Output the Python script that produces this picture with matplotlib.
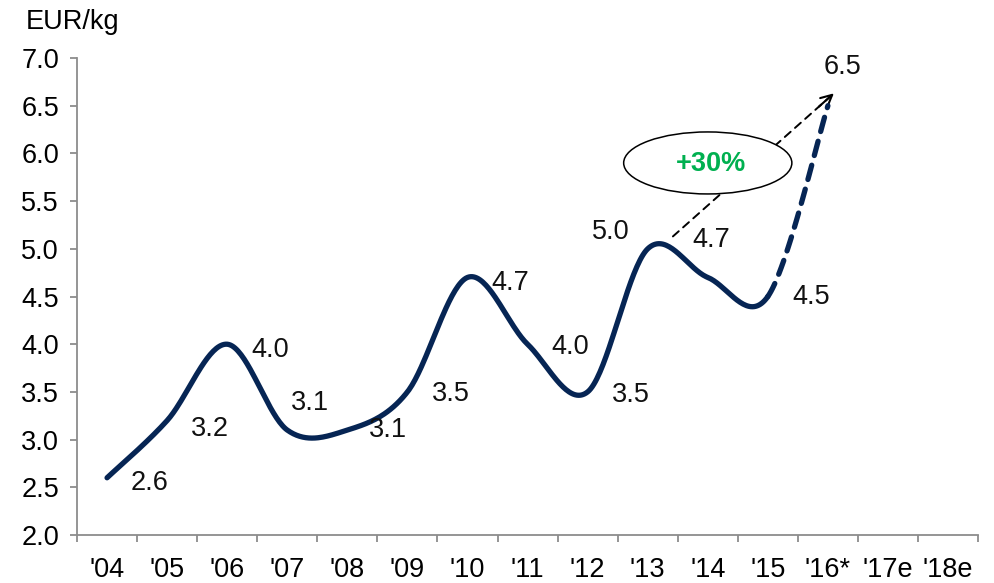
from matplotlib import pyplot as plt
from matplotlib.patches import Ellipse
import numpy as np

plt.rcParams['font.family'] = ['Liberation Sans', 'DejaVu Sans']

# price per kg, actual + estimate
years = ["'04", "'05", "'06", "'07", "'08", "'09", "'10", "'11", "'12",
         "'13", "'14", "'15", "'16*", "'17e", "'18e"]
price = [2.6, 3.2, 4.0, 3.1, 3.1, 3.5, 4.7, 4.0, 3.5, 5.0, 4.7, 4.5, 6.5]

# label offsets (pixels) for the data labels
lbl_off = [(43, -5), (43, -8), (43, -6), (23, 27), (41, 0), (43, -2), (43, -6),
           (43, -3), (43, -3), (-37, 17), (3, 37), (43, 0), (15, 39)]

navy = '#062554'
fs = 19.5


def smooth(px, py, n=40):
    # excel-like smoothed line (catmull-rom as bezier), one chunk per segment
    pts = np.column_stack([px, py]).astype(float)
    ext = np.vstack([pts[0], pts, pts[-1]])
    t = np.linspace(0, 1, n)[:, None]
    segs = []
    for i in range(len(pts) - 1):
        p0, p1, p2, p3 = ext[i], ext[i + 1], ext[i + 2], ext[i + 3]
        b1 = p1 + (p2 - p0) / 6.0
        b2 = p2 - (p3 - p1) / 6.0
        c = ((1 - t) ** 3) * p1 + 3 * ((1 - t) ** 2) * t * b1 + 3 * (1 - t) * t ** 2 * b2 + t ** 3 * p2
        segs.append(c)
    return segs


fig = plt.figure(figsize=(9.95, 5.83), dpi=100)
ax = fig.add_axes([0.0774, 0.0823, 0.9056, 0.8182])

x = np.arange(len(price))
segs = smooth(x, price)
solid = np.vstack(segs[:-1])
ax.plot(solid[:, 0], solid[:, 1], color=navy, lw=3.8, solid_capstyle='round', zorder=3)
ax.plot(segs[-1][:, 0], segs[-1][:, 1], color=navy, lw=3.8, ls=(0, (2.8, 1.9)),
        dash_capstyle='round', zorder=3)

for i, v in enumerate(price):
    ax.annotate('%.1f' % v, (x[i], v), xytext=lbl_off[i], textcoords='offset pixels',
                ha='center', va='center', fontsize=fs, color='#111111', zorder=4)

# growth arrow '13 -> '16*
start = (x[9] + 0.42, price[9] + 0.13)
end = (x[12] + 0.1, price[12] + 0.13)
ax.annotate('', xy=end, xytext=start,
            arrowprops=dict(arrowstyle='-', ls=(0, (4, 3)), lw=1.4, color='black',
                            shrinkA=0, shrinkB=0), zorder=2)
pre = (end[0] - 0.25, end[1] - (end[1] - start[1]) * 0.25 / (end[0] - start[0]))
ax.annotate('', xy=end, xytext=pre,
            arrowprops=dict(arrowstyle='->,head_length=0.8,head_width=0.4', lw=1.5,
                            color='black', shrinkA=0, shrinkB=0), zorder=2)
ell = Ellipse((x[10] + 0.0, 5.9), 2.8, 0.65, facecolor='white', edgecolor='black',
              lw=1.1, zorder=5)
ax.add_patch(ell)
ax.text(x[10] + 0.05, 5.89, '+30%', color='#00b050', fontsize=fs, fontweight='bold',
        ha='center', va='center', zorder=6)

ax.set_xlim(-0.5, len(years) - 0.5)
ax.set_ylim(2.0, 7.0)
ax.set_yticks(np.arange(2.0, 7.01, 0.5))
ax.set_yticklabels(['%.1f' % v for v in np.arange(2.0, 7.01, 0.5)])
ax.set_xticks(np.arange(len(years)))
ax.set_xticklabels(years)
ax.set_xticks(np.arange(-0.5, len(years)), minor=True)

for s in ['top', 'right']:
    ax.spines[s].set_visible(False)
for s in ['left', 'bottom']:
    ax.spines[s].set_color('#8c8c8c')
    ax.spines[s].set_linewidth(1.3)
ax.tick_params(axis='y', length=5, width=1.3, color='#8c8c8c', labelsize=fs, pad=8)
ax.tick_params(axis='x', which='major', length=0, labelsize=fs, pad=16)
ax.tick_params(axis='x', which='minor', length=5, width=1.3, color='#8c8c8c')

fig.text(0.026, 0.963, 'EUR/kg', fontsize=fs, ha='left', va='center')

plt.savefig('out.png', dpi=100)
